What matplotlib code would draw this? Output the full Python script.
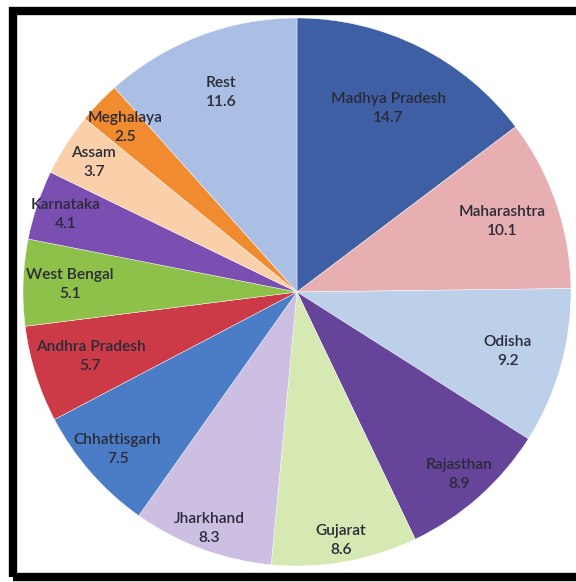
import numpy as np
import matplotlib.pyplot as plt
from matplotlib.patches import Rectangle

estados = ['Madhya Pradesh', 'Maharashtra', 'Odisha', 'Rajasthan', 'Gujarat',
           'Jharkhand', 'Chhattisgarh', 'Andhra Pradesh', 'West Bengal',
           'Karnataka', 'Assam', 'Meghalaya', 'Rest']
valores = [14.7, 10.1, 9.2, 8.9, 8.6, 8.3, 7.5, 5.7, 5.1, 4.1, 3.7, 2.5, 11.6]

colores = ['#3e5fa4', '#e8afb2', '#bdd0ea', '#65449a', '#d6e9b2', '#ccbfe1',
           '#4b7dc7', '#cb3a46', '#8ec149', '#7a4fb1', '#f9d0aa', '#f08b2f', '#abbee3']
# distancia radial de cada etiqueta (fraccion del radio)
dist_etiq = [0.75, 0.79, 0.80, 0.89, 0.92, 0.92, 0.87, 0.79, 0.83, 0.89, 0.88, 0.87, 0.78]

fig = plt.figure(figsize=(5.76, 5.82), dpi=100)
ax = fig.add_axes([0, 0, 1, 1])

cx, cy, r = 297, 582 - 292, 274
wedges, _ = ax.pie(valores, colors=colores, startangle=90, counterclock=False,
                   center=(cx, cy), radius=r,
                   wedgeprops={'linewidth': 0.3, 'edgecolor': 'white'})

for w, nombre, v, d in zip(wedges, estados, valores, dist_etiq):
    ang = np.deg2rad((w.theta1 + w.theta2) / 2)
    x = cx + d * r * np.cos(ang)
    y = cy + d * r * np.sin(ang)
    ax.text(x, y, f'{nombre}\n{v}', ha='center', va='center', fontsize=11.2,
            family='Lato', fontweight='semibold', color='#2a2a38', linespacing=1.45)

# marco negro
ax.add_patch(Rectangle((13, 582 - 577), 600, 577 - 11, fill=False,
                       edgecolor='black', linewidth=6, zorder=5))

ax.set_xlim(0, 576)
ax.set_ylim(0, 582)
ax.set_aspect('equal')
ax.axis('off')
fig.savefig('out.png', dpi=100)
